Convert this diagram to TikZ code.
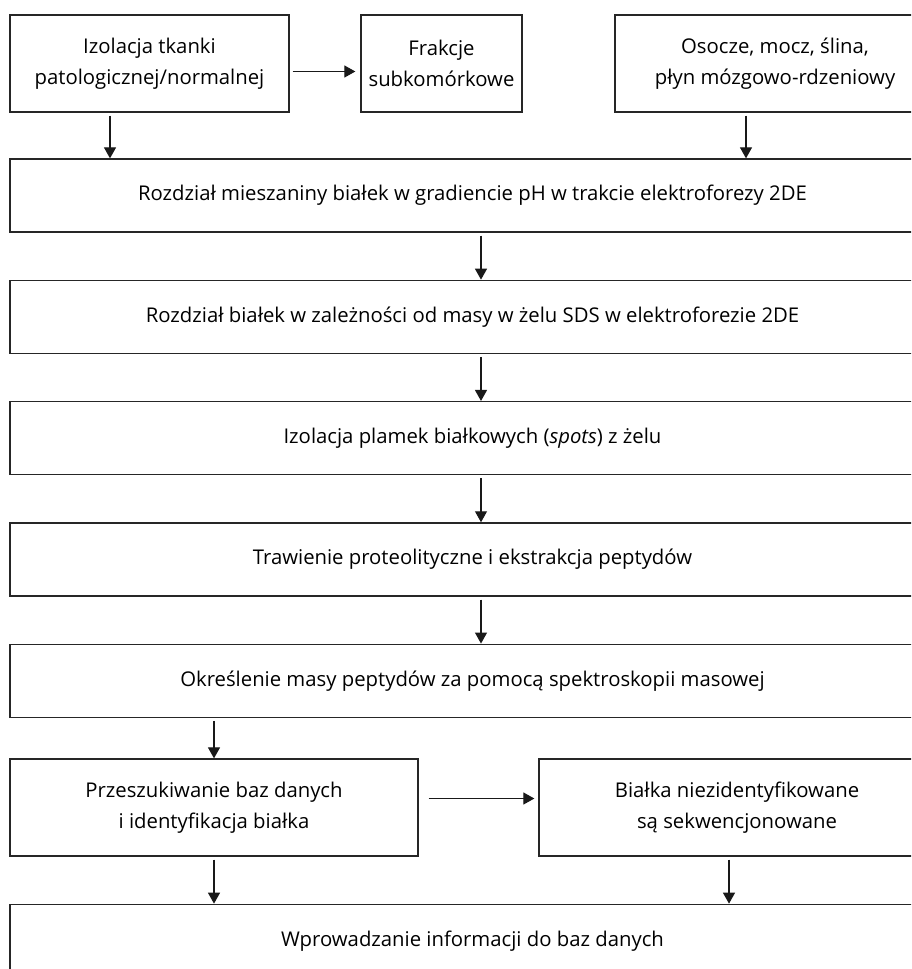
\documentclass[tikz,border=0pt]{standalone}
\usepackage{fontspec}
\setmainfont{Open Sans}
\usetikzlibrary{positioning,arrows.meta}

\begin{document}
\begin{tikzpicture}[
    x=1pt, y=1pt,
    font=\fontsize{20.3}{31}\selectfont,
    >={Triangle[width=12pt,length=11pt]},
    stepbox/.style={
        draw=black!85,
        fill=white,
        align=center,
        line width=1.3pt,
        inner sep=0pt,
        minimum height=73pt
    },
    topbox/.style={stepbox, minimum height=97pt},
    widebox/.style={stepbox, minimum width=925pt},
    flow/.style={->, line width=1.2pt, draw=black!90}
]
    \clip (0,0) rectangle (911,-969);

    % top row
    \node[topbox, minimum width=279pt] (tissue) at (149.5,-63.5)
        {Izolacja tkanki\\patologicznej/normalnej};
    \node[topbox, minimum width=161pt] (fractions) at (441.5,-63.5)
        {Frakcje\\subkomórkowe};
    \node[topbox, minimum width=320pt] (fluids) at (775,-63.5)
        {Osocze, mocz, ślina,\\płyn mózgowo-rdzeniowy};

    % main column
    \node[widebox] (ief) at (472.5,-195.5)
        {Rozdział mieszaniny białek w gradiencie pH w trakcie elektroforezy 2DE};
    \node[widebox, below=47pt of ief] (sds)
        {Rozdział białek w zależności od masy w żelu SDS w elektroforezie 2DE};
    \node[widebox, below=47pt of sds] (spots)
        {Izolacja plamek białkowych (\textit{spots}) z żelu};
    \node[widebox, below=47pt of spots] (digest)
        {Trawienie proteolityczne i ekstrakcja peptydów};
    \node[widebox, below=47pt of digest] (massspec)
        {Określenie masy peptydów za pomocą spektroskopii masowej};

    % search row
    \node[topbox, minimum width=408pt] (search) at (214,-807.5)
        {Przeszukiwanie baz danych\\i identyfikacja białka};
    \node[topbox, minimum width=396pt] (unknown) at (737,-807.5)
        {Białka niezidentyfikowane\\są sekwencjonowane};

    \node[widebox, below=47pt of search.south -| ief] (database)
        {Wprowadzanie informacji do baz danych};

    % arrows
    \draw[flow, shorten <=3pt, shorten >=5pt] ([yshift=-8pt]tissue.east) -- ([yshift=-8pt]fractions.west);
    \draw[flow, shorten <=3pt] ([xshift=-39.5pt]tissue.south) -- ([xshift=-39.5pt]tissue.south |- ief.north);
    \draw[flow, shorten <=3pt] ([xshift=-29pt]fluids.south) -- ([xshift=-29pt]fluids.south |- ief.north);
    \draw[flow, shorten <=3pt] ([xshift=8.5pt]ief.south) -- ([xshift=8.5pt]sds.north);
    \draw[flow, shorten <=3pt] ([xshift=8.5pt]sds.south) -- ([xshift=8.5pt]spots.north);
    \draw[flow, shorten <=3pt] ([xshift=8.5pt]spots.south) -- ([xshift=8.5pt]digest.north);
    \draw[flow, shorten <=3pt] ([xshift=8.5pt]digest.south) -- ([xshift=8.5pt]massspec.north);
    \draw[flow, shorten <=3pt] (search.north |- massspec.south) -- (search.north);
    \draw[flow, shorten <=10pt, shorten >=4pt] ([yshift=9pt]search.east) -- ([yshift=9pt]unknown.west);
    \draw[flow, shorten <=3pt] (search.south) -- (search.south |- database.north);
    \draw[flow, shorten <=3pt] ([xshift=-8pt]unknown.south) -- ([xshift=-8pt]unknown.south |- database.north);
\end{tikzpicture}
\end{document}
